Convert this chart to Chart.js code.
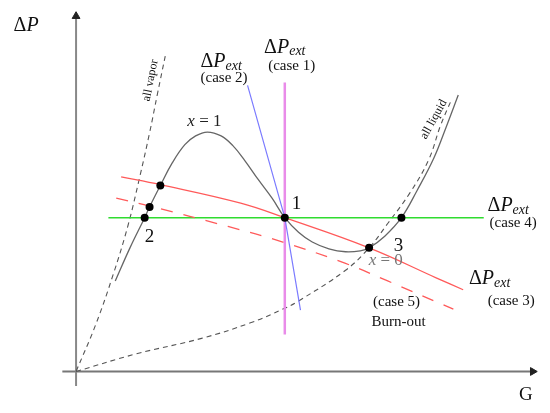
<!DOCTYPE html>
<html>
<head>
<meta charset="utf-8">
<script src="https://cdn.jsdelivr.net/npm/chart.js@4.4.1/dist/chart.umd.min.js"></script>
<style>
  html, body { margin: 0; padding: 0; background: #ffffff; }
  canvas { display: block; }
</style>
</head>
<body>
<canvas id="c" width="550" height="413"></canvas>
<script>
// ---- data (G = mass flux, dP = pressure drop, arbitrary units) ----
const sCurveG = [40, 55, 70, 75, 86, 98, 111, 122, 134, 148, 160, 172, 186, 200, 213, 227, 241, 258, 275, 290, 299, 315, 332, 348, 365, 378, 390];
const sCurveP = [93, 127, 158, 169, 191, 214, 233, 242, 246, 242, 232, 217, 197, 178, 158, 143, 133, 126, 123, 124, 127, 139, 158, 186, 219, 252, 284];

const liquidG = [0, 61, 128, 178, 213, 228, 275, 299, 318, 341, 360, 372, 383];
const liquidP = [0, 18, 34, 50, 65, 73, 104, 127, 152, 184, 218, 253, 279];

const vaporG = [0, 20, 38, 53, 65, 75, 83, 91];
const vaporP = [0, 48, 100, 150, 200, 245, 285, 324];

const case3G = [46, 86, 168, 213, 299, 368, 395];
const case3P = [200, 192, 173, 158, 127, 96, 84];

const case5G = [41, 75, 155, 211, 275, 318, 385];
const case5P = [178, 170, 149, 133, 111, 93, 64];

const case4G = [33, 416];
const case4P = [158, 158];

const case2G = [175, 213, 229];
const case2P = [294, 158, 63];

const case1G = [213, 213];
const case1P = [297, 38];

const yAxisG = [0, 0];
const yAxisP = [-15, 366];
const xAxisG = [-14, 465];
const xAxisP = [0, 0];

const dotG = [86, 75, 70, 213, 299, 332];
const dotP = [191, 169, 158, 158, 127, 158];

// text annotations: [segments, G, P, rotationDeg, color, size]
const labelTexts = [
  [[["Δ", ""], ["P", "italic"]], -51, 355, 0, "#111", 20],
  [[["G", ""]], 459, -24, 0, "#111", 19],
  [[["Δ", ""], ["P", "italic"], ["ext", "italic sub"]], 148, 318, 0, "#111", 20],
  [[["(case 2)", ""]], 151, 301, 0, "#111", 15],
  [[["Δ", ""], ["P", "italic"], ["ext", "italic sub"]], 213, 333, 0, "#111", 20],
  [[["(case 1)", ""]], 220, 314, 0, "#111", 15],
  [[["Δ", ""], ["P", "italic"], ["ext", "italic sub"]], 441, 170, 0, "#111", 20],
  [[["(case 4)", ""]], 446, 152, 0, "#111", 15],
  [[["Δ", ""], ["P", "italic"], ["ext", "italic sub"]], 422, 95, 0, "#111", 20],
  [[["(case 3)", ""]], 444, 72, 0, "#111", 15],
  [[["x", "italic"], [" = 1", ""]], 131, 257, 0, "#222", 17],
  [[["x", "italic"], [" = 0", ""]], 316, 114, 0, "#777", 17],
  [[["1", ""]], 225, 172, 0, "#111", 19],
  [[["2", ""]], 75, 138, 0, "#111", 19],
  [[["3", ""]], 329, 129, 0, "#111", 19],
  [[["(case 5)", ""]], 327, 71, 0, "#111", 15],
  [[["Burn-out", ""]], 329, 51, 0, "#111", 15],
  [[["all vapor", ""]], 76, 299, -79, "#111", 12],
  [[["all liquid", ""]], 365, 259, -61, "#111", 12]
];

const toPts = (gs, ps) => gs.map((g, i) => ({ x: g, y: ps[i] }));

const lineDS = (label, gs, ps, color, width, dash, order, tension) => ({
  label, data: toPts(gs, ps), showLine: true, borderColor: color, backgroundColor: color,
  borderWidth: width, borderDash: dash || [], pointRadius: 0, pointHoverRadius: 0,
  fill: false, tension: tension || 0, order
});

const textPlugin = {
  id: 'texts',
  afterDatasetsDraw(chart) {
    const ctx = chart.ctx;
    const xs = chart.scales.x, ys = chart.scales.y;
    const serif = '"Liberation Serif", "DejaVu Serif", serif';
    labelTexts.forEach(([segs, g, p, rot, color, size]) => {
      const px = xs.getPixelForValue(g), py = ys.getPixelForValue(p);
      ctx.save();
      ctx.translate(px, py);
      ctx.rotate(rot * Math.PI / 180);
      ctx.fillStyle = color;
      ctx.textBaseline = 'middle';
      const parts = segs.map(([t, st]) => {
        const sub = st.includes('sub');
        const sz = sub ? Math.round(size * 0.72) : size;
        const font = (st.includes('italic') ? 'italic ' : '') + sz + 'px ' + serif;
        ctx.font = font;
        return { t, font, w: ctx.measureText(t).width, dy: sub ? size * 0.22 : 0 };
      });
      const total = parts.reduce((a, b) => a + b.w, 0);
      let x = -total / 2;
      parts.forEach(pt => {
        ctx.font = pt.font;
        ctx.textAlign = 'left';
        ctx.fillText(pt.t, x, pt.dy);
        x += pt.w;
      });
      ctx.restore();
    });
  }
};

new Chart(document.getElementById('c'), {
  type: 'scatter',
  data: {
    datasets: [
      lineDS('y axis', yAxisG, yAxisP, '#888888', 2, null, 20),
      lineDS('x axis', xAxisG, xAxisP, '#777777', 2, null, 20),
      {
        label: 'arrows', data: [{ x: 0, y: 365 }, { x: 466, y: 0 }], showLine: false,
        pointStyle: 'triangle', pointRadius: 4.5, pointRotation: [0, 90],
        backgroundColor: '#222', borderColor: '#222', borderWidth: 1, order: 19
      },
      lineDS('all vapor', vaporG, vaporP, '#555555', 1.1, [5, 4], 15, 0.4),
      lineDS('all liquid', liquidG, liquidP, '#555555', 1.1, [5, 4], 15, 0.4),
      lineDS('case 1', case1G, case1P, '#e98ce9', 2.5, null, 12),
      lineDS('case 2', case2G, case2P, '#7b7bff', 1.2, null, 11),
      lineDS('case 4', case4G, case4P, '#2fdc2f', 1.6, null, 10),
      lineDS('case 5', case5G, case5P, '#ff5a5a', 1.3, [12, 11], 9, 0.4),
      lineDS('case 3', case3G, case3P, '#ff5a5a', 1.3, null, 8, 0.4),
      lineDS('system curve', sCurveG, sCurveP, '#666666', 1.3, null, 5, 0.4),
      {
        label: 'operating points', data: toPts(dotG, dotP), showLine: false,
        pointRadius: 4, backgroundColor: '#000', borderColor: '#000', borderWidth: 0, order: 1
      }
    ]
  },
  options: {
    responsive: false,
    devicePixelRatio: 1,
    animation: false,
    layout: { padding: 0 },
    plugins: { legend: { display: false }, tooltip: { enabled: false } },
    events: [],
    scales: {
      x: { type: 'linear', min: -72, max: 478, display: false },
      y: { type: 'linear', min: -37, max: 376, display: false }
    }
  },
  plugins: [textPlugin]
});
</script>
</body>
</html>
